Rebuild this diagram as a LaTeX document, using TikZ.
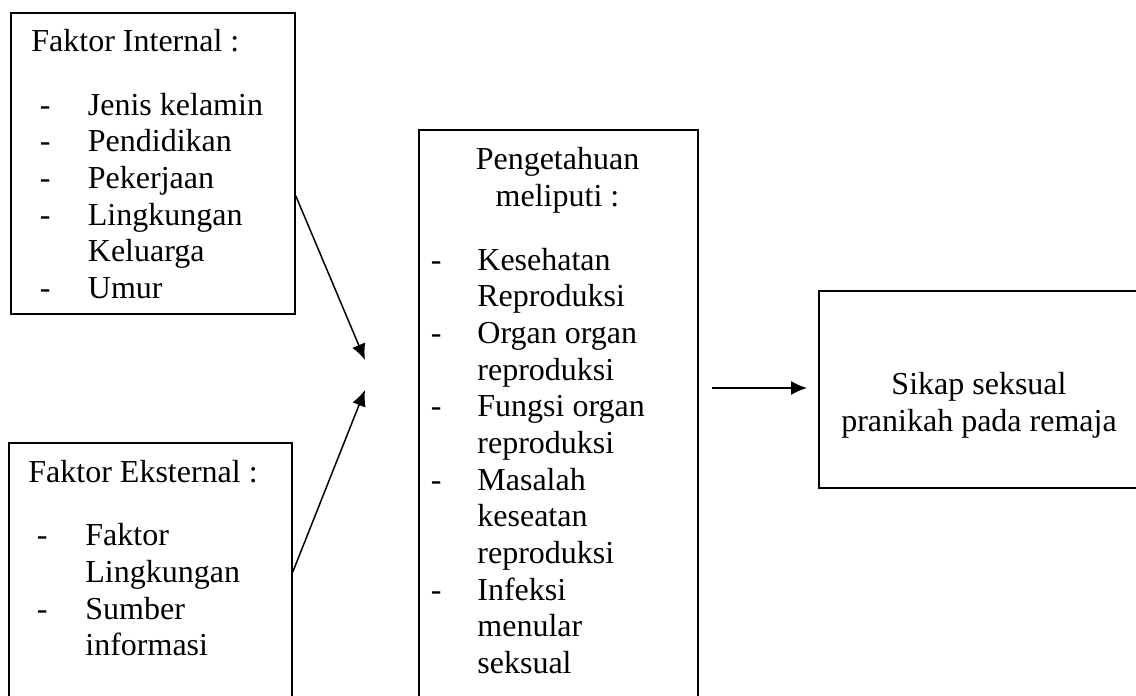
\documentclass[tikz,border=0pt]{standalone}
\usepackage{fontspec}
\setmainfont{Liberation Serif}
\usetikzlibrary{arrows.meta,calc}

\begin{document}
\begin{tikzpicture}
[x=0.5pt, y=-0.5pt,
 lineDecorate/.style={-{Latex[length=8pt,width=7pt]},line width=0.75pt},
 boxDecorate/.style={shape=rectangle,draw,line width=0.9pt,inner sep=0pt,anchor=north west},
 textDecorate/.style={inner sep=0pt,anchor=base west,font=\fontsize{16}{18}\selectfont}]

 \useasboundingbox (0,0) rectangle (1136,696);

 % boxes
 \node (internal) at (10,12) [boxDecorate, minimum width=142pt, minimum height=150.5pt] {};
 \node (eksternal) at (8,442) [boxDecorate, minimum width=141.5pt, minimum height=129pt] {};
 \node (pengetahuan) at (418,129) [boxDecorate, minimum width=139.5pt, minimum height=285.5pt] {};
 \node (sikap) at (818,290) [boxDecorate, minimum width=161pt, minimum height=98.5pt] {};

 % faktor internal
 \node (internalTitle) at (31,51.7) [textDecorate] {Faktor Internal :};
 \foreach \t [count=\i from 0] in {Jenis kelamin,Pendidikan,Pekerjaan,Lingkungan,Keluarga,Umur}
 {
          \node (I\i) at (87.5,115+\i*36.67) [textDecorate] {\t};
 }
 \foreach \i in {0,1,2,3,5}
 {
          \node (dI\i) at (39.5,115+\i*36.67) [textDecorate] {-};
 }

 % faktor eksternal
 \node (eksternalTitle) at (28,482) [textDecorate] {Faktor Eksternal :};
 \foreach \t [count=\i from 0] in {Faktor,Lingkungan,Sumber,informasi}
 {
          \node (E\i) at (85,545.7+\i*36.67) [textDecorate] {\t};
 }
 \foreach \i in {0,2}
 {
          \node (dE\i) at (36.5,545.7+\i*36.67) [textDecorate] {-};
 }

 % pengetahuan
 \node (pengetahuanTitle) at (557.5,169.8) [textDecorate, anchor=base] {Pengetahuan};
 \node (meliputiTitle) at (557.5,206.5) [textDecorate, anchor=base] {meliputi :};
 \foreach \t [count=\i from 0] in {Kesehatan,Reproduksi,Organ organ,reproduksi,Fungsi organ,reproduksi,Masalah,keseatan,reproduksi,Infeksi,menular,seksual}
 {
          \node (P\i) at (477,270+\i*36.67) [textDecorate] {\t};
 }
 \foreach \i in {0,2,4,6,9}
 {
          \node (dP\i) at (430.5,270+\i*36.67) [textDecorate] {-};
 }

 % sikap
 \node (sikapA) at (979,394) [textDecorate, anchor=base] {Sikap seksual};
 \node (sikapB) at (979,431) [textDecorate, anchor=base] {pranikah pada remaja};

 \coordinate (tipA) at (365,360);
 \coordinate (tipB) at (365,390);
 \coordinate (startC) at (712,388);
 \coordinate (tipC) at (807,388);
\path
($(internal.east)+(0,32.5)$) edge[lineDecorate] (tipA)
(eksternal.east) edge[lineDecorate] (tipB)
(startC) edge[lineDecorate] (tipC);
\end{tikzpicture}
\end{document}
